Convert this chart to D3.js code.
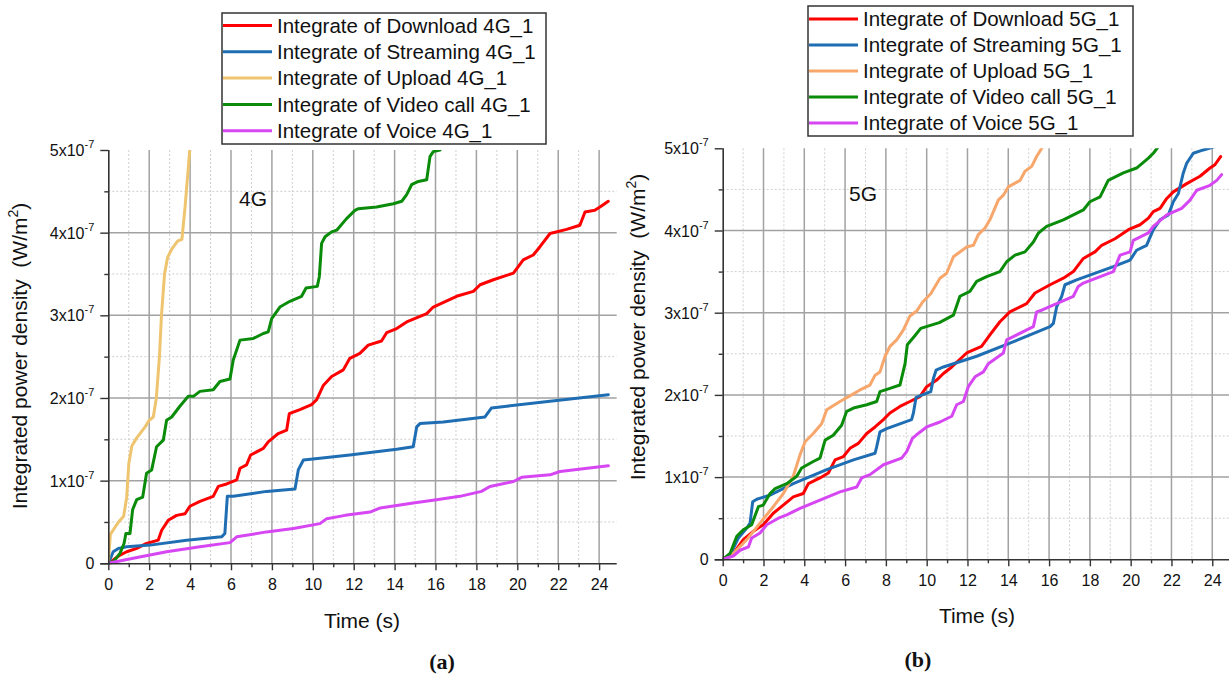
<!DOCTYPE html>
<html><head><meta charset="utf-8">
<script src="https://cdn.jsdelivr.net/npm/d3@7"></script>
<style>
body{margin:0;background:#fff}
svg{display:block}
text{font-family:"Liberation Sans",Arial,sans-serif;fill:#111}
</style>
</head><body>
<svg id="chart" width="1229" height="680"></svg>
<script>
// ---------- DATA (values in units of 1e-7 W/m^2, time in s) ----------
const xTickValues = [0,2,4,6,8,10,12,14,16,18,20,22,24];
const yTickValues = [0,1,2,3,4,5];
const yTickExponent = "-7";
const seriesNames = ["Download","Streaming","Upload","Video call","Voice"];

const download4G = [[0,0],[0.24,0.04],[0.57,0.1],[0.9,0.14],[1.39,0.18],[1.87,0.24],[2.44,0.28],[2.61,0.4],[2.93,0.52],[3.34,0.58],[3.75,0.6],[3.99,0.69],[4.48,0.75],[5.13,0.81],[5.38,0.93],[5.79,0.96],[6.28,1.01],[6.44,1.15],[6.76,1.19],[6.96,1.31],[7.58,1.39],[7.82,1.47],[8.31,1.57],[8.72,1.61],[8.85,1.81],[9.37,1.86],[9.94,1.92],[10.19,1.98],[10.51,2.15],[10.92,2.26],[11.49,2.34],[11.81,2.48],[12.3,2.54],[12.71,2.64],[13.36,2.69],[13.61,2.79],[14.1,2.84],[14.59,2.92],[15.57,3.02],[15.89,3.1],[17.03,3.23],[17.85,3.29],[18.18,3.37],[18.83,3.43],[19.81,3.51],[20.29,3.67],[20.78,3.73],[21.11,3.83],[21.6,3.99],[22.41,4.04],[23.06,4.09],[23.31,4.25],[23.79,4.27],[24.04,4.31],[24.45,4.38]];
const streaming4G = [[0,0],[0.24,0.14],[0.49,0.18],[0.9,0.2],[2.04,0.22],[3.83,0.28],[5.54,0.32],[5.7,0.36],[5.82,0.81],[6.11,0.81],[7.74,0.87],[9.13,0.9],[9.29,1.13],[9.54,1.25],[10.35,1.27],[11.81,1.31],[14.1,1.38],[14.91,1.41],[15.08,1.65],[15.24,1.69],[16.38,1.71],[18.42,1.77],[18.74,1.88],[19.48,1.9],[21.6,1.96],[24.45,2.04]];
const upload4G = [[0,0],[0.1,0.35],[0.5,0.5],[0.75,0.57],[0.9,0.8],[1.0,1.2],[1.15,1.42],[1.4,1.52],[1.8,1.65],[2.0,1.73],[2.2,1.77],[2.35,2.0],[2.5,2.5],[2.6,3.0],[2.75,3.5],[2.9,3.7],[3.1,3.8],[3.4,3.9],[3.6,3.92],[3.75,4.3],[3.85,4.6],[4.0,5.05]];
const videoCall4G = [[0,0],[0.25,0.02],[0.57,0.12],[0.77,0.24],[0.86,0.36],[1.06,0.36],[1.19,0.65],[1.39,0.77],[1.68,0.8],[1.87,1.09],[2.12,1.13],[2.36,1.41],[2.69,1.49],[2.85,1.73],[3.1,1.77],[3.5,1.9],[3.91,2.02],[4.16,2.02],[4.48,2.08],[5.13,2.1],[5.46,2.2],[5.95,2.23],[6.11,2.46],[6.44,2.7],[7.09,2.72],[7.58,2.78],[7.82,2.8],[7.99,2.96],[8.39,3.1],[8.88,3.17],[9.45,3.23],[9.67,3.33],[10.22,3.35],[10.32,3.47],[10.43,3.87],[10.6,3.95],[10.92,4.01],[11.17,4.03],[11.65,4.17],[12.06,4.27],[12.23,4.29],[13.12,4.31],[13.94,4.35],[14.35,4.38],[14.59,4.46],[14.83,4.58],[15.16,4.62],[15.57,4.64],[15.73,4.92],[15.89,4.98],[16.22,5.0]];
const voice4G = [[0,0],[1.22,0.06],[2.85,0.14],[4.48,0.2],[5.95,0.25],[6.28,0.32],[7.74,0.38],[9.05,0.42],[10.35,0.48],[10.68,0.54],[11.58,0.58],[12.8,0.62],[13.3,0.67],[14.91,0.73],[16.05,0.77],[17.19,0.81],[18.25,0.87],[18.66,0.93],[19.81,0.99],[20.21,1.04],[21.6,1.07],[22.09,1.11],[24.45,1.18]];

const download5G = [[0,0],[0.52,0.07],[1.01,0.24],[1.5,0.34],[1.99,0.42],[2.48,0.56],[2.97,0.66],[3.46,0.76],[3.95,0.8],[4.2,0.92],[4.77,0.99],[5.18,1.05],[5.51,1.21],[5.92,1.25],[6.24,1.35],[6.65,1.41],[7.06,1.53],[7.47,1.61],[7.88,1.7],[8.2,1.78],[8.69,1.86],[9.18,1.92],[9.67,1.98],[10.0,2.1],[10.49,2.18],[10.82,2.26],[11.23,2.34],[11.96,2.51],[12.69,2.59],[13.1,2.73],[13.59,2.89],[14.08,3.01],[14.9,3.11],[15.31,3.24],[16.05,3.34],[16.7,3.42],[17.19,3.5],[17.68,3.66],[18.25,3.74],[18.58,3.82],[19.23,3.9],[19.89,4.01],[20.46,4.07],[20.87,4.15],[21.11,4.23],[21.44,4.27],[21.77,4.39],[22.09,4.47],[22.75,4.57],[23.4,4.66],[23.89,4.76],[24.13,4.8],[24.41,4.9]];
const streaming5G = [[0,0],[0.36,0.05],[0.77,0.26],[1.18,0.38],[1.34,0.44],[1.47,0.7],[1.67,0.73],[2.32,0.78],[3.46,0.92],[5.1,1.09],[6.41,1.21],[7.47,1.29],[7.55,1.37],[7.71,1.55],[8.04,1.59],[9.26,1.7],[9.35,1.78],[9.48,1.97],[10.2,2.04],[10.33,2.2],[10.46,2.3],[10.82,2.34],[12.45,2.47],[14.08,2.63],[16.05,2.83],[16.21,2.87],[16.37,3.07],[16.62,3.2],[16.78,3.34],[17.35,3.4],[19.15,3.56],[19.97,3.64],[20.29,3.76],[20.78,3.82],[21.11,4.01],[21.44,4.13],[21.85,4.19],[22.09,4.35],[22.34,4.45],[22.58,4.7],[22.75,4.82],[23.07,4.94],[23.56,4.98],[24.13,5.02]];
const upload5G = [[0,0],[0.52,0.07],[1.18,0.24],[1.83,0.44],[2.48,0.64],[2.97,0.8],[3.46,1.01],[3.79,1.27],[4.04,1.43],[4.44,1.53],[4.85,1.65],[5.1,1.82],[5.75,1.92],[6.32,2.0],[6.73,2.06],[7.22,2.12],[7.47,2.24],[7.71,2.28],[7.96,2.47],[8.2,2.59],[8.53,2.67],[8.86,2.79],[9.18,2.96],[9.51,3.02],[9.8,3.13],[10.2,3.23],[10.65,3.42],[10.98,3.48],[11.31,3.68],[11.96,3.8],[12.29,3.82],[12.53,3.95],[12.86,4.03],[13.1,4.13],[13.51,4.37],[13.76,4.43],[14.0,4.53],[14.58,4.61],[14.82,4.72],[15.15,4.78],[15.39,4.9],[15.69,5.02]];
const videoCall5G = [[0,0],[0.36,0.07],[0.69,0.28],[1.01,0.36],[1.42,0.42],[1.75,0.64],[1.99,0.66],[2.32,0.8],[2.57,0.86],[3.14,0.92],[3.63,1.01],[3.87,1.11],[4.44,1.19],[4.77,1.23],[5.02,1.45],[5.42,1.51],[5.83,1.63],[6.08,1.8],[6.41,1.84],[7.06,1.88],[7.55,1.92],[7.71,2.04],[8.2,2.08],[8.69,2.12],[8.94,2.38],[9.05,2.61],[9.39,2.71],[9.71,2.81],[10.1,2.84],[10.62,2.88],[11.31,2.97],[11.63,3.2],[12.12,3.26],[12.45,3.38],[12.94,3.44],[13.59,3.5],[13.92,3.62],[14.33,3.7],[14.82,3.74],[15.23,3.86],[15.48,3.97],[15.88,4.05],[16.7,4.13],[17.68,4.25],[18.0,4.35],[18.5,4.41],[18.9,4.61],[19.64,4.7],[20.29,4.76],[20.87,4.88],[21.11,4.94],[21.36,5.02]];
const voice5G = [[0,0],[0.52,0.04],[0.85,0.11],[1.26,0.15],[1.42,0.26],[1.83,0.32],[2.16,0.42],[2.73,0.5],[3.14,0.54],[3.79,0.62],[4.77,0.72],[5.75,0.82],[6.57,0.88],[6.81,0.99],[7.22,1.03],[7.88,1.15],[8.77,1.23],[9.02,1.31],[9.3,1.47],[9.63,1.54],[10.0,1.61],[10.65,1.67],[11.23,1.74],[11.47,1.88],[11.8,1.92],[12.04,2.1],[12.37,2.22],[12.78,2.28],[13.02,2.38],[13.76,2.51],[13.92,2.67],[14.25,2.71],[15.23,2.83],[15.39,3.01],[15.64,3.03],[16.37,3.11],[17.19,3.2],[17.43,3.32],[17.68,3.36],[19.15,3.5],[19.48,3.7],[19.97,3.74],[20.13,3.88],[20.87,3.97],[21.11,4.05],[21.77,4.19],[22.5,4.27],[22.91,4.37],[23.24,4.49],[23.89,4.55],[24.22,4.61],[24.46,4.68]];

const colors4G = ["#ff0000","#1f6eb3","#efc46f","#0a8c0a","#d646f2"];
const colors5G = ["#ff0000","#1f6eb3","#f7a76c","#0a8c0a","#d646f2"];

// ---------- LAYOUT ----------
const panels = [
  {tag:"4G", series:[download4G,streaming4G,upload4G,videoCall4G,voice4G], colors:colors4G,
   x0:108.3, x1:616.7, yTop:150, yBot:563.3,
   legend:{x:222,y:13,w:324,h:131,row0:25.5,dy:26.3},
   label:{x:253,y:206}, ytitle:{x:20,y:356}, xtitle:{x:362,y:628}, caption:{text:"(a)",x:442,y:669}},
  {tag:"5G", series:[download5G,streaming5G,upload5G,videoCall5G,voice5G], colors:colors5G,
   x0:722.7, x1:1229.8, yTop:148.3, yBot:559.3,
   legend:{x:808,y:6,w:325,h:130,row0:19,dy:26},
   label:{x:863,y:201}, ytitle:{x:638,y:327}, xtitle:{x:977,y:623}, caption:{text:"(b)",x:918,y:667}}
];
const xMax = 24.86;

const svg = d3.select("#chart");

panels.forEach((p, pi) => {
  const x = d3.scaleLinear().domain([0, xMax]).range([p.x0, p.x1]);
  const y = d3.scaleLinear().domain([0, 5]).range([p.yBot, p.yTop]);
  const g = svg.append("g");

  // minor grid
  const minorX = d3.range(1, 25, 2);
  const minorY = d3.range(0.5, 5, 1);
  g.selectAll(".mgx").data(minorX).enter().append("line")
    .attr("x1", d => x(d)).attr("x2", d => x(d)).attr("y1", p.yTop).attr("y2", p.yBot)
    .attr("stroke", "#cfcfcf").attr("stroke-width", 1).attr("stroke-dasharray", "2,2");
  g.selectAll(".mgy").data(minorY).enter().append("line")
    .attr("x1", p.x0).attr("x2", p.x1).attr("y1", d => y(d)).attr("y2", d => y(d))
    .attr("stroke", "#cfcfcf").attr("stroke-width", 1).attr("stroke-dasharray", "2,2");
  // major grid
  g.selectAll(".gx").data(xTickValues.filter(d => d > 0)).enter().append("line")
    .attr("x1", d => x(d)).attr("x2", d => x(d)).attr("y1", p.yTop).attr("y2", p.yBot)
    .attr("stroke", "#a2a2a2").attr("stroke-width", 1.5);
  g.selectAll(".gy").data(yTickValues.filter(d => d > 0 && d < 5)).enter().append("line")
    .attr("x1", p.x0).attr("x2", p.x1).attr("y1", d => y(d)).attr("y2", d => y(d))
    .attr("stroke", "#a2a2a2").attr("stroke-width", 1.5);

  // clip
  const clipId = "clip" + pi;
  svg.append("clipPath").attr("id", clipId).append("rect")
    .attr("x", p.x0).attr("y", p.yTop).attr("width", p.x1 - p.x0 + 2).attr("height", p.yBot - p.yTop + 2);

  const line = d3.line().x(d => x(d[0])).y(d => y(d[1]));
  const lines = g.append("g").attr("clip-path", `url(#${clipId})`);
  p.series.forEach((s, i) => {
    lines.append("path").datum(s).attr("d", line)
      .attr("fill", "none").attr("stroke", p.colors[i]).attr("stroke-width", 3)
      .attr("stroke-linejoin", "round").attr("stroke-linecap", "round");
  });

  // axes
  const xAxis = d3.axisBottom(x).tickValues(xTickValues).tickSize(7).tickFormat(d3.format("d"));
  const xAxisMinor = d3.axisBottom(x).tickValues(minorX).tickSize(4).tickFormat("");
  const yAxis = d3.axisLeft(y).tickValues(yTickValues).tickSize(8).tickFormat("");
  const yAxisMinor = d3.axisLeft(y).tickValues(minorY).tickSize(4).tickFormat("");

  const gxm = g.append("g").attr("transform", `translate(0,${p.yBot})`).call(xAxisMinor);
  const gx = g.append("g").attr("transform", `translate(0,${p.yBot})`).call(xAxis);
  const gym = g.append("g").attr("transform", `translate(${p.x0},0)`).call(yAxisMinor);
  const gy = g.append("g").attr("transform", `translate(${p.x0},0)`).call(yAxis);
  [gx, gxm, gy, gym].forEach(a => {
    a.select(".domain").attr("stroke", "#333").attr("stroke-width", 1.6);
    a.selectAll(".tick line").attr("stroke", "#333").attr("stroke-width", 1.4);
  });
  gxm.select(".domain").remove(); gym.select(".domain").remove();
  gx.select(".domain").attr("d", `M${p.x0 - 8},0.5H${p.x1}`);
  gy.select(".domain").attr("d", `M0.5,${p.yBot}V${p.yTop}`);
  gx.selectAll(".tick text").attr("y", 15).attr("dy", "0.71em")
    .style("font-family", '"Liberation Sans",Arial,sans-serif').style("font-size", "16px").attr("fill", "#111");

  // y tick labels with superscript
  yTickValues.forEach(v => {
    const t = g.append("text").attr("x", p.x0 - 14).attr("y", y(v) + 6)
      .attr("text-anchor", "end").style("font-size", "16px");
    if (v === 0) { t.text("0"); }
    else {
      t.append("tspan").text(v + "x10");
      t.append("tspan").attr("dy", -8).style("font-size", "11px").text(yTickExponent);
    }
  });

  // axis titles
  const yt = g.append("text").attr("transform", `translate(${p.ytitle.x},${p.ytitle.y}) rotate(-90)`)
    .attr("text-anchor", "middle").attr("dy", "0.35em").style("font-size", "21px");
  yt.append("tspan").text("Integrated power density\u00a0\u00a0(W/m");
  yt.append("tspan").attr("dy", -9).style("font-size", "14px").text("2");
  yt.append("tspan").attr("dy", 9).text(")");

  g.append("text").attr("x", p.xtitle.x).attr("y", p.xtitle.y).attr("text-anchor", "middle")
    .style("font-size", "21px").text("Time (s)");

  g.append("text").attr("x", p.label.x).attr("y", p.label.y).attr("text-anchor", "middle")
    .style("font-size", "21px").text(p.tag);

  g.append("text").attr("x", p.caption.x).attr("y", p.caption.y).attr("text-anchor", "middle")
    .style("font-family", '"Liberation Serif","Times New Roman",serif').style("font-weight", "bold")
    .style("font-size", "22px").text(p.caption.text);

  // legend
  const L = p.legend;
  const lg = g.append("g");
  lg.append("rect").attr("x", L.x).attr("y", L.y).attr("width", L.w).attr("height", L.h)
    .attr("fill", "#fff").attr("stroke", "#333").attr("stroke-width", 1.5);
  seriesNames.forEach((n, i) => {
    const yy = L.row0 + i * L.dy;
    lg.append("line").attr("x1", L.x + 1).attr("x2", L.x + 50).attr("y1", yy).attr("y2", yy)
      .attr("stroke", p.colors[i]).attr("stroke-width", 3);
    lg.append("text").attr("x", L.x + 55).attr("y", yy).attr("dy", "0.36em")
      .style("font-size", "20.5px").text(`Integrate of ${n} ${p.tag}_1`);
  });
});
</script>
</body></html>
